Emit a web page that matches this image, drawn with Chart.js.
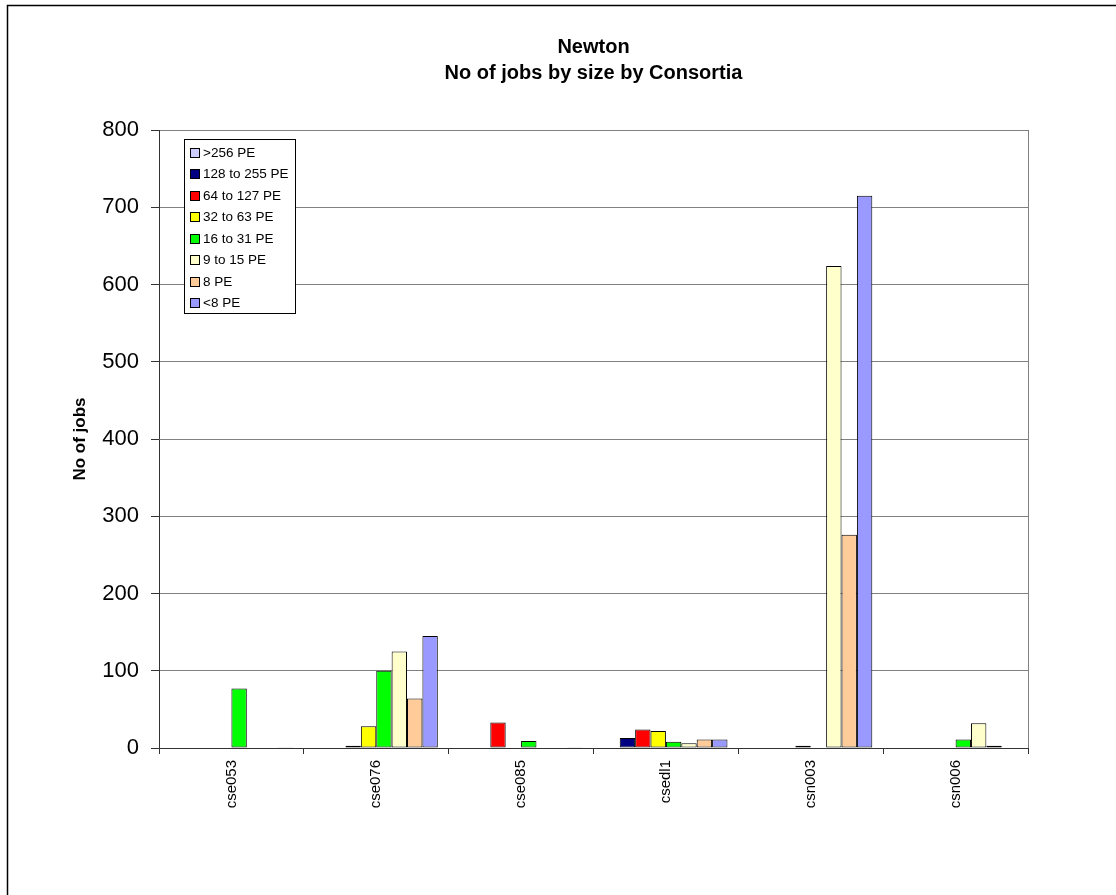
<!DOCTYPE html>
<html>
<head>
<meta charset="utf-8">
<title>Newton - No of jobs by size by Consortia</title>
<script src="https://cdn.jsdelivr.net/npm/chart.js@4.4.1/dist/chart.umd.min.js"></script>
<style>
  html, body { margin: 0; padding: 0; background: #ffffff; }
  canvas { display: block; }
</style>
</head>
<body>
<canvas id="jobsChart" width="1116" height="895"></canvas>
<script>
// Consortia (categories on the x axis)
const consortia = ['cse053', 'cse076', 'cse085', 'csedl1', 'csn003', 'csn006'];

// Job size classes (one bar series each)
const sizeClasses = ['>256 PE', '128 to 255 PE', '64 to 127 PE', '32 to 63 PE',
                     '16 to 31 PE', '9 to 15 PE', '8 PE', '<8 PE'];

// Number of jobs per consortium, one array per size class
const jobsOver256   = [0, 0,   0,  0,   0,   0];
const jobs128to255  = [0, 0,   0,  13,  0,   0];
const jobs64to127   = [0, 3,   33, 24,  0,   0];
const jobs32to63    = [0, 28,  0,  22,  3,   0];
const jobs16to31    = [77, 100, 9, 8,   0,   11];
const jobs9to15     = [0, 125, 0,  6,   624, 32];
const jobs8         = [0, 64,  0,  11,  276, 3];
const jobsUnder8    = [1, 145, 1,  11,  715, 0];

// Value axis range and step
const yMin = 0;
const yMax = 800;
const yStep = 100;

const seriesValues = [jobsOver256, jobs128to255, jobs64to127, jobs32to63,
                      jobs16to31, jobs9to15, jobs8, jobsUnder8];
const seriesColors = ['#CCCCFF', '#000080', '#FF0000', '#FFFF00',
                      '#00FF00', '#FFFFCC', '#FFCC99', '#9999FF'];

const FONT = '"Liberation Sans", Arial, Helvetica, sans-serif';

// White page with the frame line along the left and top edges
const pageFrame = {
  id: 'pageFrame',
  beforeDraw(chart) {
    const { ctx, width, height } = chart;
    ctx.save();
    ctx.fillStyle = '#ffffff';
    ctx.fillRect(0, 0, width, height);
    ctx.strokeStyle = '#000000';
    ctx.lineWidth = 1.5;
    ctx.beginPath();
    ctx.moveTo(7.5, height);
    ctx.lineTo(7.5, 5.5);
    ctx.lineTo(width, 5.5);
    ctx.stroke();
    ctx.restore();
  },
  beforeDatasetsDraw(chart) {
    // right-hand edge of the plot area
    const { ctx, chartArea } = chart;
    ctx.save();
    ctx.strokeStyle = '#808080';
    ctx.lineWidth = 1;
    ctx.beginPath();
    ctx.moveTo(Math.round(chartArea.right) + 0.5, chartArea.top);
    ctx.lineTo(Math.round(chartArea.right) + 0.5, chartArea.bottom);
    ctx.stroke();
    ctx.restore();
  }
};

// Boxed legend inside the top-left corner of the plot area
const boxLegend = {
  id: 'boxLegend',
  afterDatasetsDraw(chart) {
    const { ctx, chartArea } = chart;
    const x = Math.round(chartArea.left) + 25;
    const y = Math.round(chartArea.top) + 9;
    const w = 111, h = 174;
    ctx.save();
    ctx.fillStyle = '#ffffff';
    ctx.fillRect(x, y, w, h);
    ctx.strokeStyle = '#000000';
    ctx.lineWidth = 1;
    ctx.strokeRect(x + 0.5, y + 0.5, w, h);
    ctx.font = '13.5px ' + FONT;
    ctx.textBaseline = 'middle';
    ctx.textAlign = 'left';
    chart.data.datasets.forEach((ds, i) => {
      const cy = Math.round(y + 13.5 + i * 21.57);
      ctx.fillStyle = ds.backgroundColor;
      ctx.fillRect(x + 6.5, cy - 4.5, 9, 9);
      ctx.strokeStyle = '#000000';
      ctx.strokeRect(x + 6.5, cy - 4.5, 9, 9);
      ctx.fillStyle = '#000000';
      ctx.fillText(ds.label, x + 19, cy);
    });
    ctx.restore();
  }
};

new Chart(document.getElementById('jobsChart'), {
  type: 'bar',
  data: {
    labels: consortia,
    datasets: sizeClasses.map((label, i) => ({
      label: label,
      data: seriesValues[i],
      backgroundColor: seriesColors[i],
      borderColor: '#000000',
      borderWidth: 1,
      borderSkipped: false,
      categoryPercentage: 0.85,
      barPercentage: 1.0
    }))
  },
  options: {
    responsive: false,
    animation: false,
    layout: { padding: { left: 0, right: 88, top: 0, bottom: 0 } },
    plugins: {
      legend: { display: false },
      tooltip: { enabled: false },
      title: {
        display: true,
        fullSize: false,
        text: ['Newton', 'No of jobs by size by Consortia'],
        color: '#000000',
        font: { family: FONT, size: 20, weight: 'bold', lineHeight: 1.3 },
        padding: { top: 34, bottom: 44 }
      }
    },
    scales: {
      x: {
        grid: {
          display: true,
          drawOnChartArea: false,
          drawTicks: true,
          tickLength: 6,
          tickColor: '#333333',
          offset: true
        },
        border: { color: '#333333', width: 1 },
        ticks: {
          minRotation: 90,
          maxRotation: 90,
          padding: 6,
          color: '#000000',
          font: { family: FONT, size: 15 }
        },
        afterFit(scale) { scale.height = 147; }
      },
      y: {
        min: yMin,
        max: yMax,
        ticks: {
          stepSize: yStep,
          padding: 12,
          color: '#000000',
          font: { family: FONT, size: 22 }
        },
        grid: {
          color: '#808080',
          lineWidth: 1,
          tickLength: 8,
          tickColor: '#333333'
        },
        border: { color: '#333333', width: 1 },
        title: {
          display: true,
          text: 'No of jobs',
          color: '#000000',
          font: { family: FONT, size: 17, weight: 'bold' },
          padding: { top: 70, bottom: 0 }
        },
        afterFit(scale) { scale.width = 159; }
      }
    }
  },
  plugins: [pageFrame, boxLegend]
});
</script>
</body>
</html>
